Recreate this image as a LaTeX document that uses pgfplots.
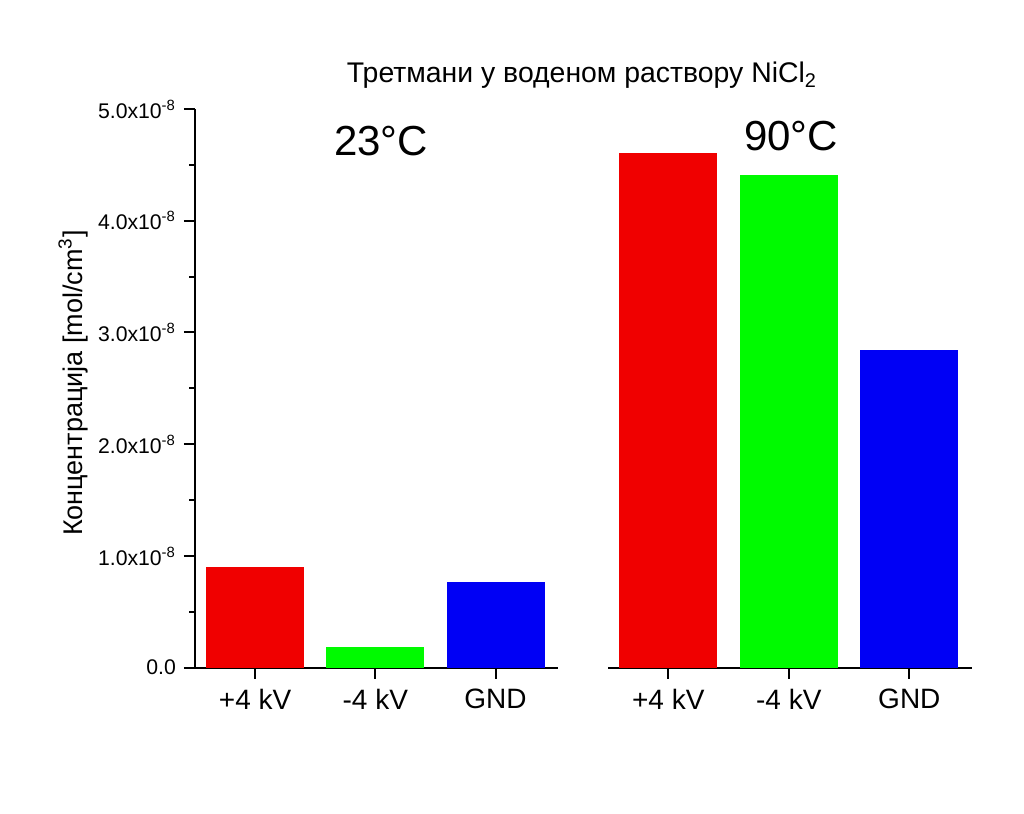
\documentclass[border=0pt]{standalone}
\usepackage{fontspec}
\setmainfont{Liberation Sans}
\usepackage{pgfplots}
\pgfplotsset{compat=1.18}
\definecolor{barred}{RGB}{240,0,0}
\definecolor{bargreen}{RGB}{0,250,0}
\definecolor{barblue}{RGB}{0,0,245}

\pgfplotsset{
  group/.style={
    scale only axis,
    width=181.5pt, height=279.35pt,
    anchor=south west,
    ybar, bar width=49pt, bar shift=0pt,
    xmin=0.5, xmax=3.52, ymin=0, ymax=5e-8,
    scaled y ticks=false,
    axis x line=bottom,
    #1,
    axis line style={-, line width=1pt},
    x axis line style={-}, y axis line style={-},
    every tick/.style={black, line width=1pt},
    tick align=outside,
    major tick length=5.5pt, minor tick length=2.8pt,
    xtick={1,2,3}, xticklabels={+4 kV,-4 kV,GND},
    xticklabel style={font=\fontsize{14}{16}\selectfont, yshift=-1.5pt},
    yticklabel style={font=\fontsize{10.6}{12}\selectfont, xshift=-0.5pt},
    /pgf/number format/assume math mode=true,
  },
}

\begin{document}
\begin{tikzpicture}
\path (0pt,0pt) rectangle (512pt,407pt);

% 23 C
\begin{axis}[group={axis y line=left}, at={(97.5pt,73.15pt)},
  ytick={0,1e-8,2e-8,3e-8,4e-8,5e-8},
  yticklabels={0.0,1.0x10\textsuperscript{-8},2.0x10\textsuperscript{-8},3.0x10\textsuperscript{-8},4.0x10\textsuperscript{-8},5.0x10\textsuperscript{-8}},
  minor y tick num=1]
  \addplot[fill=barred, draw=none] coordinates {(1,0.904e-8)};
  \addplot[fill=bargreen, draw=none] coordinates {(2,0.188e-8)};
  \addplot[fill=barblue, draw=none] coordinates {(3,0.764e-8)};
\end{axis}

% 90 C
\begin{axis}[group={axis y line=none}, at={(304pt,73.15pt)}, width=182pt]
  \addplot[fill=barred, draw=none] coordinates {(1,4.61e-8)};
  \addplot[fill=bargreen, draw=none] coordinates {(2,4.41e-8)};
  \addplot[fill=barblue, draw=none] coordinates {(3,2.84e-8)};
\end{axis}

\node[anchor=base, font=\fontsize{14.2}{16}\selectfont] at (291pt,365.5pt) {Третмани у воденом раствору NiCl\textsubscript{2}};
\node[anchor=base, font=\fontsize{21}{24}\selectfont] at (190.5pt,329pt) {23°C};
\node[anchor=base, font=\fontsize{21}{24}\selectfont] at (395.5pt,331.5pt) {90°C};
\node[rotate=90, font=\fontsize{13.5}{16}\selectfont] at (36.5pt,215.5pt) {Концентрација [mol/cm\textsuperscript{3}]};
\end{tikzpicture}
\end{document}
